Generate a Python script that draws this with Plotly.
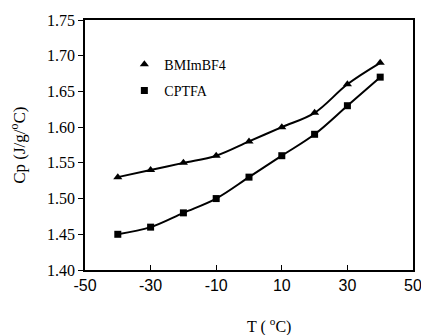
import plotly.graph_objects as go

temps = [-40, -30, -20, -10, 0, 10, 20, 30, 40]
bmim = [1.53, 1.54, 1.55, 1.56, 1.58, 1.60, 1.62, 1.66, 1.69]
cptfa = [1.45, 1.46, 1.48, 1.50, 1.53, 1.56, 1.59, 1.63, 1.67]
x_ticks = [-50, -30, -10, 10, 30, 50]
x_ticklabels = ["-50", "-30", "-10", "10", "30", "50"]
y_ticks = [1.40, 1.45, 1.50, 1.55, 1.60, 1.65, 1.70, 1.75]

serif = "Liberation Serif, Times New Roman, serif"
ytickfont = dict(family=serif, size=16, color="black")
xtickfont = dict(family="Liberation Sans Narrow, Arial Narrow, Liberation Sans, sans-serif", size=16, color="black")

fig = go.Figure()
fig.add_trace(go.Scatter(x=temps, y=bmim, mode="lines+markers", name="BMImBF4", showlegend=False,
                         line=dict(color="black", width=2, shape="spline", smoothing=1.0),
                         marker=dict(symbol="triangle-up", size=8, color="black")))
fig.add_trace(go.Scatter(x=temps, y=cptfa, mode="lines+markers", name="CPTFA", showlegend=False,
                         line=dict(color="black", width=2, shape="spline", smoothing=1.0),
                         marker=dict(symbol="square", size=7, color="black")))
# legend entries (marker only, like the reference)
fig.add_trace(go.Scatter(x=[None], y=[None], mode="markers", name="BMImBF4", legendgroup="a",
                         marker=dict(symbol="triangle-up", size=8, color="black")))
fig.add_trace(go.Scatter(x=[None], y=[None], mode="markers", name="CPTFA", legendgroup="b",
                         marker=dict(symbol="square", size=7, color="black")))

fig.update_layout(
    width=421, height=335,
    margin=dict(l=85, r=8, t=20, b=65),
    paper_bgcolor="white", plot_bgcolor="white",
    showlegend=True,
    legend=dict(x=0.12, y=0.885, xanchor="left", yanchor="top",
                font=dict(family=serif, size=14, color="black"),
                bgcolor="rgba(0,0,0,0)", itemwidth=30, tracegroupgap=5),
    xaxis=dict(range=[-50, 50], tickvals=x_ticks, ticktext=x_ticklabels,
               ticks="inside", ticklen=5, tickcolor="black", automargin=False,
               ticklabeloverflow="allow",
               showline=True, linecolor="black", linewidth=1.5, mirror=True,
               showgrid=False, zeroline=False, tickfont=xtickfont),
    yaxis=dict(range=[1.40, 1.75], tickvals=y_ticks, tickformat=".2f",
               ticks="outside", ticklen=5, tickcolor="black", automargin=False,
               ticklabeloverflow="allow",
               showline=True, linecolor="black", linewidth=1.5, mirror=True,
               showgrid=False, zeroline=False, tickfont=ytickfont),
    annotations=[
        dict(text="T ( <sup>o</sup>C)", xref="paper", yref="paper", x=0.56, y=-0.22,
             xanchor="center", yanchor="middle", showarrow=False,
             font=dict(family=serif, size=16, color="black")),
        dict(text="Cp (J/g/<sup>o</sup>C)", xref="paper", yref="paper", x=-0.205, y=0.5,
             xanchor="center", yanchor="middle", textangle=-90, showarrow=False,
             font=dict(family=serif, size=17, color="black")),
    ],
)

fig.write_html("out.html", config={"displayModeBar": False},
               post_script="document.body.style.margin='0';document.documentElement.style.overflow='hidden';")
